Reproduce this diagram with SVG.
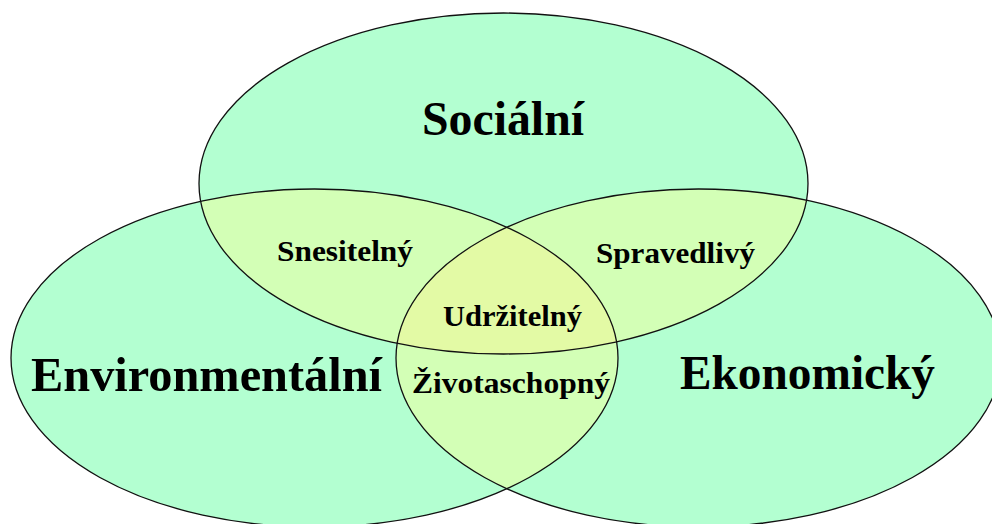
<svg xmlns="http://www.w3.org/2000/svg" width="992" height="524" viewBox="0 0 992 524">
<style>
.base{fill:#B3FFD1;stroke:none}
.pair{fill:#D3FFB6;stroke:none}
.triple{fill:#E3FAA5;stroke:none}
.outline{fill:none;stroke:#111;stroke-width:1.3}
.big{font-family:"Liberation Serif","Times New Roman",serif;font-weight:bold;font-size:48px;fill:#000}
.small{font-family:"Liberation Serif","Times New Roman",serif;font-weight:bold;font-size:29px;fill:#000}
</style>
<defs>
<ellipse id="eS" cx="503.5" cy="183.5" rx="304.5" ry="170.5"/>
<ellipse id="eL" cx="314.5" cy="358" rx="303.5" ry="169"/>
<ellipse id="eR" cx="698.5" cy="358" rx="302.5" ry="169"/>
<clipPath id="cS"><use href="#eS"/></clipPath>
<clipPath id="cL"><use href="#eL"/></clipPath>
<clipPath id="cR"><use href="#eR"/></clipPath>
</defs>
<rect width="992" height="524" fill="#fff"/>
<g id="fills">
<use href="#eS" class="base"/>
<use href="#eL" class="base"/>
<use href="#eR" class="base"/>
<use href="#eS" class="pair" clip-path="url(#cL)"/>
<use href="#eS" class="pair" clip-path="url(#cR)"/>
<use href="#eL" class="pair" clip-path="url(#cR)"/>
<g clip-path="url(#cR)"><use href="#eS" class="triple" clip-path="url(#cL)"/></g>
</g>
<g id="node-socialni">
<use href="#eS" class="outline"/>
<text class="big" x="422" y="135" textLength="162" lengthAdjust="spacingAndGlyphs">Sociální</text>
</g>
<g id="node-environmentalni">
<use href="#eL" class="outline"/>
<text class="big" x="31" y="391" textLength="351" lengthAdjust="spacingAndGlyphs">Environmentální</text>
</g>
<g id="node-ekonomicky">
<use href="#eR" class="outline"/>
<text class="big" x="680" y="389" textLength="255" lengthAdjust="spacingAndGlyphs">Ekonomický</text>
</g>
<g id="node-snesitelny">
<text class="small" x="277" y="261" textLength="136" lengthAdjust="spacingAndGlyphs">Snesitelný</text>
</g>
<g id="node-spravedlivy">
<text class="small" x="596" y="263" textLength="159" lengthAdjust="spacingAndGlyphs">Spravedlivý</text>
</g>
<g id="node-udrzitelny">
<text class="small" x="443" y="326" textLength="139" lengthAdjust="spacingAndGlyphs">Udržitelný</text>
</g>
<g id="node-zivotaschopny">
<text class="small" x="412" y="393" textLength="198" lengthAdjust="spacingAndGlyphs">Životaschopný</text>
</g>
<g id="connectors"></g>
</svg>
